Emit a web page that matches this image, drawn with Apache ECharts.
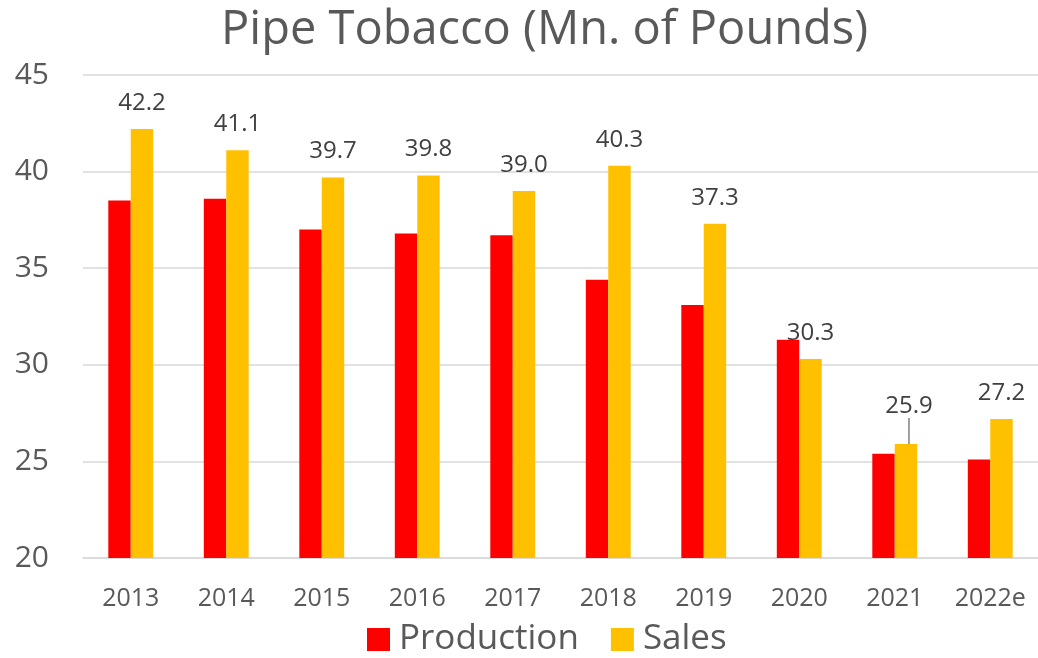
<!DOCTYPE html>
<html><head><meta charset="utf-8">
<script src="https://cdn.jsdelivr.net/npm/echarts@6/dist/echarts.min.js"></script>
<style>html,body{margin:0;padding:0;background:#fff;overflow:hidden}#c{width:1038px;height:658px}</style>
</head><body><div id="c"></div>
<script>
const categories = ['2013','2014','2015','2016','2017','2018','2019','2020','2021','2022e'];
const production = [38.5, 38.6, 37.0, 36.8, 36.7, 34.4, 33.1, 31.3, 25.4, 25.1];
const sales = [42.2, 41.1, 39.7, 39.8, 39.0, 40.3, 37.3, 30.3, 25.9, 27.2];
const yTicks = [20, 25, 30, 35, 40, 45];
const movedLabel = 8; // 2021 label is lifted with a leader line
const FONT = '"Open Sans", sans-serif';
const salesData = sales.map((v, i) => i === movedLabel
  ? { value: v, labelLine: { show: true, lineStyle: { color: '#808080', width: 1.5 } } }
  : { value: v });
const chart = echarts.init(document.getElementById('c'));
chart.setOption({
  animation: false,
  title: { text: 'Pipe Tobacco (Mn. of Pounds)', left: 216, top: 2,
    textStyle: { fontFamily: FONT, fontSize: 47, fontWeight: 'normal', color: '#595959' } },
  legend: { bottom: -4, left: 362, itemWidth: 23, itemHeight: 23, itemGap: 32,
    icon: 'rect', textStyle: { fontFamily: FONT, fontSize: 35, color: '#595959', padding: [0, 0, 0, 4] },
    data: ['Production', 'Sales'] },
  grid: { left: 83, width: 962, top: 75, bottom: 100 },
  xAxis: { type: 'category', data: categories,
    axisLine: { lineStyle: { color: '#d9d9d9', width: 1.5 } }, axisTick: { show: false },
    axisLabel: { fontFamily: FONT, fontSize: 25, color: '#595959', margin: 28 } },
  yAxis: { type: 'value', min: yTicks[0], max: yTicks[yTicks.length-1], interval: 5,
    axisLine: { show: false }, axisTick: { show: false },
    splitLine: { lineStyle: { color: '#d9d9d9', width: 1.5 } },
    axisLabel: { fontFamily: FONT, fontSize: 30, color: '#595959', margin: 34 } },
  series: [
    { name: 'Production', type: 'bar', data: production, itemStyle: { color: '#ff0000' },
      barGap: '0%', barCategoryGap: '53%' },
    { name: 'Sales', type: 'bar', data: salesData, itemStyle: { color: '#ffc000' },
      barGap: '0%', barCategoryGap: '53%',
      label: { show: true, position: 'top', distance: 14, fontFamily: FONT, fontSize: 24, color: '#404040',
        formatter: p => p.value.toFixed(1) },
      labelLayout: p => p.dataIndex === movedLabel ? { dx: 3, dy: -12 } : {} }
  ]
});
</script></body></html>
